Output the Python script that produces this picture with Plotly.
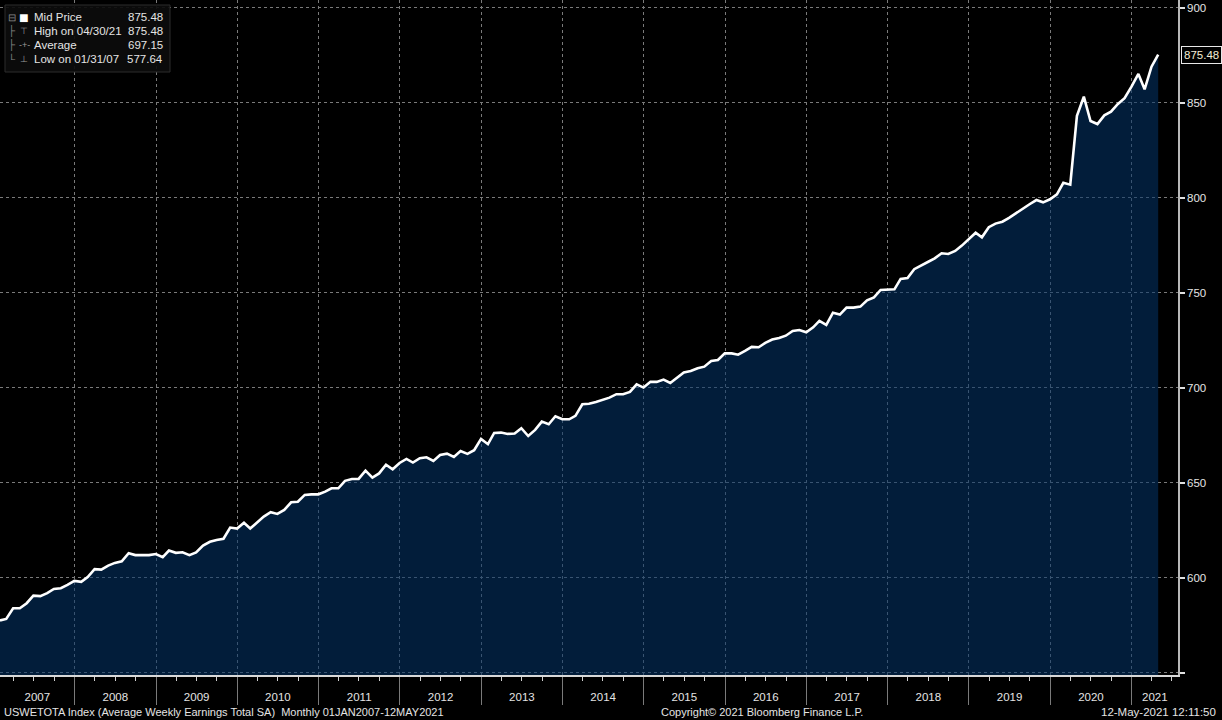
import pandas as pd
import numpy as np
import plotly.graph_objects as go

# Average Weekly Earnings Total SA, monthly, Jan 2007 - Apr 2021
valores = [
    577.64, 578.4, 584.0, 584.0, 586.7, 590.7, 590.4, 592.0, 594.2, 594.6, 596.3, 598.4,  # 2007
    597.9, 600.4, 604.6, 604.4, 606.5, 607.9, 608.7, 613.0, 612.0, 612.0, 612.0, 612.6,  # 2008
    610.9, 614.4, 613.2, 613.5, 612.0, 613.4, 617.0, 619.0, 620.0, 620.6, 626.5, 626.0,  # 2009
    629.0, 626.0, 629.0, 632.3, 634.6, 633.7, 635.8, 639.8, 640.1, 643.7, 644.0, 644.0,  # 2010
    645.4, 647.2, 647.2, 651.1, 652.1, 652.1, 656.5, 652.8, 655.0, 659.6, 657.2, 660.5,  # 2011
    662.6, 660.7, 663.0, 663.5, 661.6, 664.7, 665.4, 663.7, 666.8, 665.3, 667.2, 673.2,  # 2012
    670.4, 676.3, 676.5, 675.8, 676.0, 678.8, 674.7, 677.9, 682.3, 680.9, 685.1, 683.5,  # 2013
    683.5, 685.3, 691.4, 691.7, 692.6, 693.6, 694.9, 696.7, 696.7, 697.9, 701.9, 700.2,  # 2014
    703.2, 703.2, 704.4, 702.6, 705.4, 708.2, 708.9, 710.4, 711.2, 714.2, 714.7, 718.2,  # 2015
    718.2, 717.5, 719.5, 721.6, 721.4, 723.7, 725.5, 726.3, 727.5, 730.0, 730.5, 729.3,  # 2016
    731.9, 735.3, 733.2, 739.6, 738.6, 742.3, 742.3, 742.8, 746.1, 747.7, 751.6, 751.9,  # 2017
    751.9, 757.4, 757.9, 762.5, 764.6, 766.3, 768.2, 770.9, 770.5, 772.1, 774.9, 778.2,  # 2018
    781.7, 779.3, 784.6, 786.5, 787.5, 789.5, 792.0, 794.6, 796.7, 798.9, 797.7, 799.3,  # 2019
    801.9, 808.0, 807.0, 843.2, 853.3, 840.5, 838.9, 843.5, 845.4, 849.5, 852.5, 858.6,  # 2020
    865.3, 857.2, 869.1, 875.48,                                                         # 2021
]
fechas = pd.date_range("2007-01-31", periods=len(valores), freq=pd.offsets.MonthEnd())

promedio = "697.15"
y_ticks = [550, 600, 650, 700, 750, 800, 850, 900]
y_labels = ["", "600", "650", "700", "750", "800", "850", "900"]
anios = list(range(2007, 2022))

x_ini = pd.Timestamp("2007-01-31")
x_fin = pd.Timestamp("2021-07-28")
y_ini, y_fin = 548.9, 904.2

# limites de cada anio y centro de la parte visible
limites = [pd.Timestamp(f"{a}-01-01") for a in anios[1:]]
centros = []
for a in anios:
    a0 = max(pd.Timestamp(f"{a}-01-01"), x_ini)
    a1 = min(pd.Timestamp(f"{a + 1}-01-01"), x_fin)
    centros.append(a0 + (a1 - a0) / 2)

serie = pd.DataFrame({"fecha": fechas, "valor": valores})

FONDO = "#000000"
RELLENO = "rgba(4,53,105,0.55)"
GRID = "#7a7a7a"
TEXTO = "#e4e4e4"
FUENTE = "Liberation Sans"

PW, PH = 1178, 675  # area del grafico en px


def px_x(p):
    return p / PW


def px_y(p):
    return 1 - p / PH


fig = go.Figure()
fig.add_trace(go.Scatter(
    x=serie["fecha"], y=serie["valor"], name="Mid Price",
    mode="lines", line=dict(color="white", width=2.6),
    fill="tozeroy", fillcolor=RELLENO, showlegend=False,
))
fig.add_trace(go.Scatter(x=[], y=[], xaxis="x2", showlegend=False, hoverinfo="skip"))

fig.update_layout(
    width=1222, height=720,
    margin=dict(l=0, r=44, t=0, b=45, autoexpand=False),
    paper_bgcolor=FONDO, plot_bgcolor=FONDO,
    font=dict(family=FUENTE, size=11, color=TEXTO),
    xaxis=dict(
        type="date", range=[x_ini, x_fin], automargin=False,
        tickmode="array", tickvals=limites, showticklabels=False,
        ticks="outside", ticklen=28, tickcolor="#7a7a7a", tickwidth=1,
        showgrid=True, gridcolor=GRID, griddash="dot", gridwidth=1,
        showline=True, linecolor="#d8d8d8", linewidth=1.5,
        minor=dict(dtick="M3", tick0="2007-01-01", ticks="outside", ticklen=4,
                   tickcolor="#d0d0d0", showgrid=False),
        zeroline=False,
    ),
    xaxis2=dict(
        type="date", range=[x_ini, x_fin], overlaying="x", anchor="y", side="bottom",
        automargin=False,
        tickmode="array", tickvals=centros, ticktext=[str(a) for a in anios],
        ticks="", ticklabelstandoff=13, showgrid=False, showline=False,
        tickfont=dict(family=FUENTE, size=11.5, color=TEXTO), zeroline=False,
    ),
    yaxis=dict(
        range=[y_ini, y_fin], side="right", automargin=False,
        tickmode="array", tickvals=y_ticks, ticktext=y_labels,
        ticks="outside", ticklen=5, tickwidth=2, tickcolor="#e0e0e0",
        showgrid=True, gridcolor=GRID, griddash="dot", gridwidth=1,
        showline=True, linecolor="#b8b8b8", linewidth=1.5,
        tickfont=dict(family=FUENTE, size=11.5, color=TEXTO), zeroline=False,
    ),
)

# caja de leyenda arriba a la izquierda
fig.add_shape(type="rect", xref="paper", yref="paper",
              x0=px_x(5), x1=px_x(170), y0=px_y(72), y1=px_y(5),
              fillcolor="rgba(12,12,12,0.92)", line=dict(color="#2c2c2c", width=1))

filas = [
    ("Mid Price", f"{valores[-1]:.2f}"),
    (f"High on {fechas[int(np.argmax(valores))]:%m/%d/%y}", f"{max(valores):.2f}"),
    ("Average", promedio),
    (f"Low on {fechas[int(np.argmin(valores))]:%m/%d/%y}", f"{min(valores):.2f}"),
]
iconos = ["■", "⊤", "-+-", "⊥"]
ramas = ["⊟", "├", "├", "└"]
for k, (etq, val) in enumerate(filas):
    yy = px_y(17 + 14 * k)
    fig.add_annotation(xref="paper", yref="paper", x=px_x(32), y=yy, text=etq,
                       xanchor="left", yanchor="middle", showarrow=False,
                       font=dict(size=11.5, color=TEXTO))
    fig.add_annotation(xref="paper", yref="paper", x=px_x(165), y=yy, text=val,
                       xanchor="right", yanchor="middle", showarrow=False,
                       font=dict(size=11.5, color=TEXTO))
    fig.add_annotation(xref="paper", yref="paper", x=px_x(24), y=yy, text=iconos[k],
                       xanchor="center", yanchor="middle", showarrow=False,
                       font=dict(size=16 if k == 0 else 9,
                                 color="white" if k == 0 else "#9a9a9a"))
    fig.add_annotation(xref="paper", yref="paper", x=px_x(12), y=yy, text=ramas[k],
                       xanchor="center", yanchor="middle", showarrow=False,
                       font=dict(size=10, color="#8a8a8a"))

# etiqueta del ultimo valor en el eje derecho
fig.add_annotation(xref="paper", yref="y", x=px_x(1181), y=valores[-1],
                   text=f"{valores[-1]:.2f}", xanchor="left", yanchor="middle",
                   showarrow=False, bgcolor="black", bordercolor="#e8e8e8",
                   borderwidth=1, borderpad=2,
                   font=dict(size=11.5, color="#f3ecd6"))

# pie del grafico
pie_y = px_y(712)
fig.add_annotation(xref="paper", yref="paper", x=px_x(2), y=pie_y,
                   text="USWETOTA Index (Average Weekly Earnings Total SA)  Monthly 01JAN2007-12MAY2021",
                   xanchor="left", yanchor="middle", showarrow=False,
                   font=dict(size=11, color=TEXTO))
fig.add_annotation(xref="paper", yref="paper", x=px_x(762), y=pie_y,
                   text="Copyright© 2021 Bloomberg Finance L.P.",
                   xanchor="center", yanchor="middle", showarrow=False,
                   font=dict(size=11, color=TEXTO))
fig.add_annotation(xref="paper", yref="paper", x=px_x(1218), y=pie_y,
                   text="12-May-2021 12:11:50",
                   xanchor="right", yanchor="middle", showarrow=False,
                   font=dict(size=11.5, color=TEXTO))

# sin margen del body para que la figura ocupe la ventana exacta
fig.write_html("out.html", config={"displayModeBar": False},
               post_script="document.body.style.margin='0px';document.body.style.background='#000';")
